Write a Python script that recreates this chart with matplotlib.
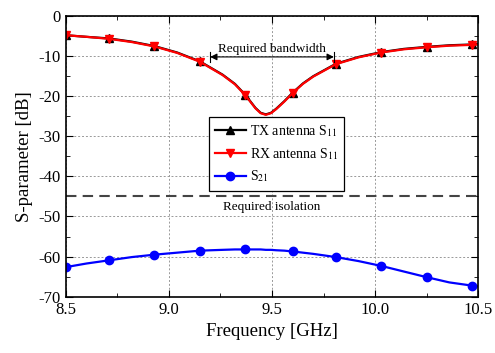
import matplotlib
matplotlib.use('Agg')
import matplotlib.pyplot as plt
from matplotlib.ticker import MultipleLocator, FormatStrFormatter

plt.rcParams['font.family'] = ['Liberation Serif', 'DejaVu Serif']
plt.rcParams['mathtext.fontset'] = 'stix'
plt.rcParams['axes.unicode_minus'] = False

# frequency points (GHz)
freq = [8.50, 8.60, 8.71, 8.82, 8.93, 9.04, 9.15, 9.26, 9.32, 9.37, 9.42, 9.445,
        9.47, 9.495, 9.52, 9.56, 9.60, 9.65, 9.70, 9.81, 9.92, 10.03, 10.14,
        10.25, 10.36, 10.47, 10.50]
# indices in freq that carry a marker
mark_idx = [0, 2, 4, 6, 9, 16, 19, 21, 23, 25]

tx_s11 = [-4.9, -5.3, -5.7, -6.5, -7.6, -9.2, -11.4, -14.7, -17.0, -19.7, -23.0, -24.2,
          -24.6, -24.2, -23.2, -21.3, -19.2, -16.9, -15.1, -12.0, -10.3, -9.1, -8.3,
          -7.8, -7.4, -7.2, -7.1]
rx_s11 = [-4.9, -5.3, -5.8, -6.6, -7.7, -9.3, -11.5, -14.8, -17.1, -19.8, -23.1, -24.3,
          -24.7, -24.3, -23.3, -21.4, -19.3, -17.0, -15.2, -12.1, -10.4, -9.2, -8.4,
          -7.9, -7.5, -7.3, -7.2]
s21 = [-62.6, -61.7, -60.9, -60.1, -59.5, -59.0, -58.5, -58.3, -58.2, -58.2, -58.2, -58.2,
       -58.3, -58.3, -58.4, -58.5, -58.7, -59.0, -59.3, -60.1, -61.1, -62.3, -63.7,
       -65.1, -66.4, -67.2, -67.4]

isolation = -45
band_lo, band_hi = 9.2, 9.8

fig = plt.figure(figsize=(4.95, 3.53), dpi=100)
ax = fig.add_axes([0.133, 0.159, 0.833, 0.797])

ax.plot(freq, tx_s11, color='k', lw=1.6, marker='^', ms=6, markevery=mark_idx,
        label='TX antenna S$_{11}$')
ax.plot(freq, rx_s11, color='red', lw=1.6, marker='v', ms=6, markevery=mark_idx,
        label='RX antenna S$_{11}$')
ax.plot(freq, s21, color='blue', lw=1.6, marker='o', ms=6, markevery=mark_idx,
        label='S$_{21}$')

ax.axhline(isolation, color='#444444', lw=1.5, ls=(0, (5, 3)))
ax.text(9.5, -46.2, 'Required isolation', ha='center', va='top', fontsize=9.5)

ax.annotate('', xy=(band_lo, -10.3), xytext=(band_hi, -10.3),
            arrowprops=dict(arrowstyle='<|-|>', color='k', lw=0.8,
                            mutation_scale=10, shrinkA=0, shrinkB=0))
ax.plot([band_lo, band_lo], [-9.0, -11.6], color='k', lw=0.8)
ax.plot([band_hi, band_hi], [-9.0, -11.6], color='k', lw=0.8)
ax.text((band_lo + band_hi) / 2, -9.9, 'Required bandwidth', ha='center',
        va='bottom', fontsize=9.5)

ax.set_xlim(8.5, 10.5)
ax.set_ylim(-70, 0)
ax.xaxis.set_major_locator(MultipleLocator(0.5))
ax.xaxis.set_minor_locator(MultipleLocator(0.25))
ax.yaxis.set_major_locator(MultipleLocator(10))
ax.yaxis.set_minor_locator(MultipleLocator(5))
ax.xaxis.set_major_formatter(FormatStrFormatter('%.1f'))
ax.tick_params(which='both', direction='in', top=True, right=True, labelsize=12)
ax.tick_params(which='major', length=5)
ax.tick_params(which='minor', length=3)
ax.grid(True, which='major', color='#999999', ls=(0, (2, 2)), lw=0.7)
for s in ax.spines.values():
    s.set_linewidth(1.2)

ax.set_xlabel('Frequency [GHz]', fontsize=13.5)
ax.set_ylabel('S-parameter [dB]', fontsize=13.5)

leg = ax.legend(loc='upper left', bbox_to_anchor=(0.33, 0.665), fontsize=10,
                fancybox=False, edgecolor='k', framealpha=1, borderpad=0.45,
                handlelength=2.2, labelspacing=0.5, handletextpad=0.3)
leg.get_frame().set_linewidth(0.9)

fig.savefig('out.png', dpi=100)
